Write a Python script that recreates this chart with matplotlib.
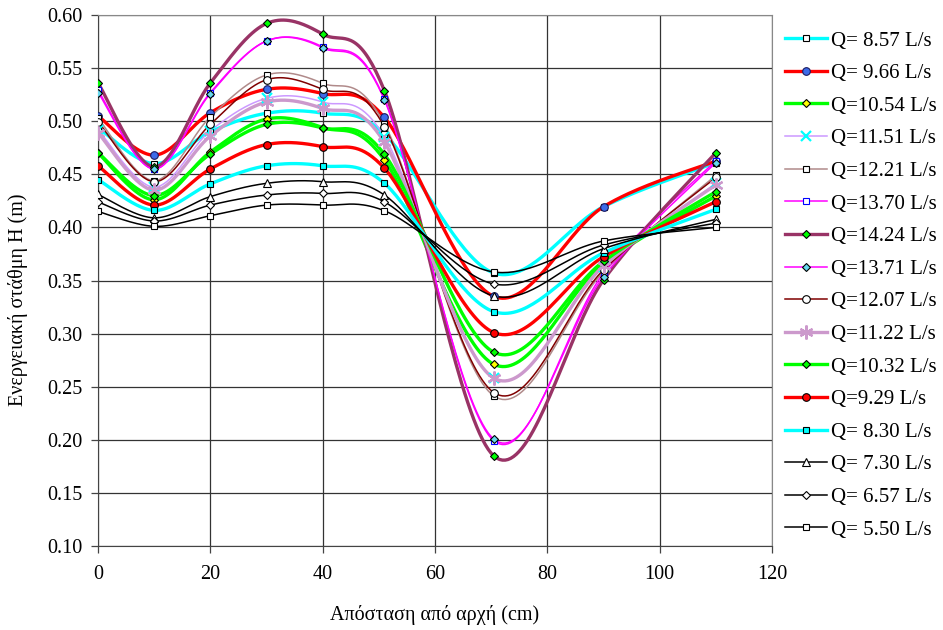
import numpy as np
import matplotlib
matplotlib.use("Agg")
import matplotlib.pyplot as plt

plt.rcParams['font.family'] = ['Liberation Serif', 'DejaVu Serif']

# ---- data ----
x_pos = [0, 10, 20, 30, 40, 51, 70.5, 90, 110]

labels = ["Q= 8.57 L/s", "Q= 9.66 L/s", "Q=10.54 L/s", "Q=11.51 L/s", "Q=12.21 L/s",
          "Q=13.70 L/s", "Q=14.24 L/s", "Q=13.71 L/s", "Q=12.07 L/s", "Q=11.22 L/s",
          "Q=10.32 L/s", "Q=9.29 L/s", "Q= 8.30 L/s", "Q= 7.30 L/s", "Q= 6.57 L/s",
          "Q= 5.50 L/s"]

h_857 = [0.494, 0.460, 0.490, 0.5075, 0.5075, 0.488, 0.357, 0.4195, 0.461]
h_966 = [0.505, 0.468, 0.508, 0.530, 0.526, 0.5035, 0.335, 0.4195, 0.4625]
h_1054 = [0.470, 0.426, 0.471, 0.502, 0.494, 0.4635, 0.271, 0.366, 0.4296]
h_1151 = [0.492, 0.438, 0.491, 0.5215, 0.518, 0.4854, 0.258, 0.363, 0.4415]
h_1221 = [0.503, 0.444, 0.504, 0.5435, 0.5357, 0.4974, 0.2412, 0.358, 0.449]
h_1370 = [0.529, 0.455, 0.527, 0.5755, 0.570, 0.521, 0.199, 0.3568, 0.4628]
h_1424 = [0.536, 0.457, 0.536, 0.592, 0.582, 0.5287, 0.1847, 0.3505, 0.4703]
h_1371 = [0.527, 0.455, 0.526, 0.5755, 0.569, 0.520, 0.2005, 0.3536, 0.461]
h_1207 = [0.4995, 0.443, 0.497, 0.539, 0.530, 0.4948, 0.2444, 0.360, 0.447]
h_1122 = [0.489, 0.435, 0.486, 0.518, 0.512, 0.480, 0.258, 0.3637, 0.440]
h_1032 = [0.4703, 0.430, 0.469, 0.497, 0.4936, 0.4688, 0.2824, 0.368, 0.4336]
h_929 = [0.458, 0.421, 0.455, 0.478, 0.476, 0.4557, 0.3009, 0.3724, 0.4242]
h_830 = [0.445, 0.416, 0.441, 0.458, 0.458, 0.4415, 0.3206, 0.376, 0.417]
h_730 = [0.431, 0.409, 0.429, 0.4415, 0.443, 0.4305, 0.3354, 0.380, 0.4076]
h_657 = [0.424, 0.406, 0.421, 0.4305, 0.432, 0.424, 0.3467, 0.3834, 0.404]
h_550 = [0.415, 0.401, 0.411, 0.421, 0.421, 0.4157, 0.358, 0.3872, 0.400]

series = [h_857, h_966, h_1054, h_1151, h_1221, h_1370, h_1424, h_1371,
          h_1207, h_1122, h_1032, h_929, h_830, h_730, h_657, h_550]

# ---- styles: (line colour, line width, marker, marker face, marker edge, marker size)
styles = [
    ('#00FFFF', 2.4, 's', 'white', 'black', 5),
    ('#FF0000', 2.4, 'o', '#3D6BE8', '#1a1a60', 5.5),
    ('#00FF00', 2.4, 'D', '#FFFF00', 'black', 4.5),
    ('#CC99FF', 1.1, 'x', '#00FFFF', '#00FFFF', 7),
    ('#B08A8A', 1.1, 's', 'white', 'black', 5),
    ('#FF00FF', 1.1, 's', 'white', '#0000FF', 5),
    ('#993366', 2.4, 'D', '#00FF00', 'black', 4.5),
    ('#FF00FF', 1.1, 'D', '#66D9F0', 'black', 4.5),
    ('#800000', 1.1, 'o', 'white', 'black', 5.5),
    ('#CC99CC', 2.4, (6, 2, 0), '#CC99CC', '#CC99CC', 10),
    ('#00FF00', 2.4, 'D', '#00FF00', 'black', 4.5),
    ('#FF0000', 2.4, 'o', '#FF0000', 'black', 5.5),
    ('#00FFFF', 2.4, 's', '#00FFFF', 'black', 5),
    ('black', 1.1, '^', 'white', 'black', 6),
    ('black', 1.1, 'D', 'white', 'black', 4.5),
    ('black', 1.1, 's', 'white', 'black', 5),
]

W, H = 943, 630
fig = plt.figure(figsize=(W / 100, H / 100), dpi=100)
ax = fig.add_axes([98 / W, 1 - 546 / H, (772 - 98) / W, (546 - 15) / H])
ax.set_xlim(0, 120)
ax.set_ylim(0.10, 0.60)


def smooth(xs, ys, n=40):
    """Excel-like smoothed line: Catmull-Rom Bezier in display space."""
    pts = ax.transData.transform(np.column_stack([xs, ys]))
    out = []
    m = len(pts)
    for i in range(m - 1):
        p0 = pts[i - 1] if i > 0 else pts[i]
        p1 = pts[i]
        p2 = pts[i + 1]
        p3 = pts[i + 2] if i + 2 < m else pts[i + 1]
        c1 = p1 + (p2 - p0) / 6.0
        c2 = p2 - (p3 - p1) / 6.0
        t = np.linspace(0, 1, n)[:, None]
        seg = ((1 - t) ** 3) * p1 + 3 * ((1 - t) ** 2) * t * c1 + 3 * (1 - t) * t ** 2 * c2 + t ** 3 * p2
        out.append(seg if i == 0 else seg[1:])
    out = np.vstack(out)
    d = ax.transData.inverted().transform(out)
    return d[:, 0], d[:, 1]


handles = []
for k, (ys, lab) in enumerate(zip(series, labels)):
    lc, lw, mk, mf, me, ms = styles[k]
    sx, sy = smooth(x_pos, ys)
    ax.plot(sx, sy, color=lc, lw=lw, zorder=2 + k * 0.01, solid_capstyle='round')
    mew = 1.6 if mk in ('x', (6, 2, 0)) else 0.8
    ax.plot(x_pos, ys, linestyle='none', marker=mk, markerfacecolor=mf,
            markeredgecolor=me, markersize=ms, markeredgewidth=mew, zorder=3 + k * 0.01)
    h, = ax.plot([], [], color=lc, lw=lw, marker=mk, markerfacecolor=mf,
                 markeredgecolor=me, markersize=ms, markeredgewidth=mew, label=lab)
    handles.append(h)

ax.set_xticks(np.arange(0, 121, 20))
ax.set_yticks(np.arange(0.10, 0.601, 0.05))
ax.yaxis.set_major_formatter(matplotlib.ticker.FormatStrFormatter('%.2f'))
ax.grid(True, color='#333333', lw=0.9)
ax.set_axisbelow(True)
ax.tick_params(axis='both', labelsize=14.5, length=5, width=0.9, color='#444444',
               direction='out')
ax.tick_params(axis='y', pad=6)
ax.tick_params(axis='x', pad=9)
for s in ['left', 'bottom']:
    ax.spines[s].set_color('#444444')
for s in ['right', 'top']:
    ax.spines[s].set_color('#888888')

fig.text(435 / W, 1 - 615 / H, 'Απόσταση από αρχή (cm)', ha='center', va='center', fontsize=14.5)
fig.text(18 / W, 1 - 300 / H, 'Ενεργειακή στάθμη H (m)', ha='center', va='center',
         rotation=90, fontsize=14.5)

fig.legend(handles=handles, loc='upper left', bbox_to_anchor=(785 / W, 1 - 31 / H),
           frameon=False, fontsize=15, handlelength=2.0, handletextpad=0.2,
           labelspacing=0.625, borderaxespad=0, borderpad=0)

fig.savefig('out.png', dpi=100)
